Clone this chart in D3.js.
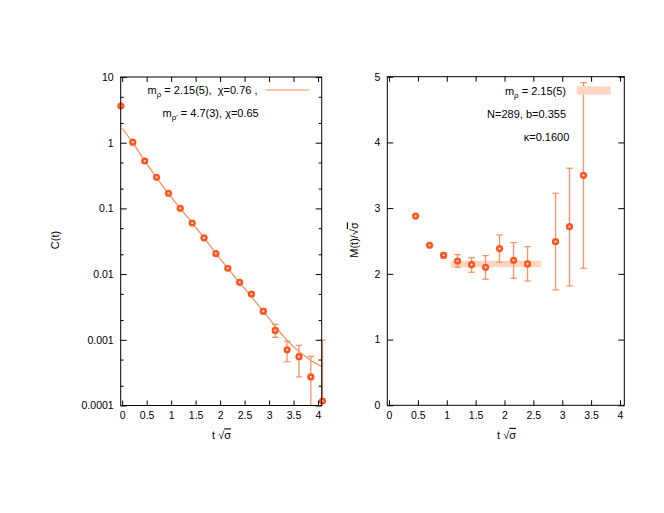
<!DOCTYPE html>
<html><head><meta charset="utf-8">
<script src="https://cdn.jsdelivr.net/npm/d3@7"></script>
<style>
body{margin:0;background:#fff;}
text{font-family:"Liberation Sans",Arial,sans-serif;fill:#000;}
</style></head>
<body><svg id="c" width="664" height="513"></svg>
<script>
// ---- data ----
const tLeft = [-0.027,0.217,0.46,0.702,0.945,1.187,1.43,1.672,1.914,2.157,2.399,2.641,2.884,3.126,3.368,3.611,3.853,4.09];
const cVal  = [3.62,1.02,0.527,0.297,0.170,0.1005,0.060,0.0355,0.0205,0.01225,0.0075,0.00498,0.00272,0.00139,0.000706,0.000553,0.000272,0.000117];
const cLo   = [3.55,1.0,0.52,0.293,0.168,0.099,0.059,0.035,0.0202,0.0120,0.0072,0.0047,0.00249,0.00109,0.000465,0.000272,0.00005,0.00005];
const cHi   = [3.69,1.04,0.535,0.301,0.172,0.102,0.061,0.036,0.0208,0.0125,0.0078,0.0053,0.00295,0.00172,0.00095,0.000824,0.00056,0.00099];
const fitT  = [0.0,0.217,0.46,0.702,0.945,1.187,1.43,1.672,1.914,2.157,2.399,2.641,2.884,3.126,3.368,3.611,3.853,4.04,4.075];
const fitC  = [1.66,1.0,0.53,0.295,0.168,0.1,0.06,0.0355,0.0207,0.0123,0.0074,0.0045,0.0027,0.0016,0.00098,0.00066,0.00049,0.000405,0.0004];

const tRight = [0.46,0.702,0.945,1.187,1.43,1.672,1.914,2.157,2.399,2.884,3.126,3.368];
const mVal   = [2.88,2.435,2.283,2.196,2.14,2.10,2.384,2.207,2.151,2.49,2.718,3.50];
const mLo    = [2.87,2.42,2.24,2.10,2.024,1.918,2.177,1.933,1.892,1.755,1.816,2.085];
const mHi    = [2.89,2.45,2.32,2.292,2.247,2.277,2.592,2.475,2.414,3.227,3.607,4.91];
const plateau = {mass:2.15, err:0.05, from:1.07, to:2.63};

const xTicks = [0,0.5,1,1.5,2,2.5,3,3.5,4];
const xTickLabels = ["0","0.5","1","1.5","2","2.5","3","3.5","4"];
const yLogTicks = [10,1,0.1,0.01,0.001,0.0001];
const yLogLabels = ["10","1","0.1","0.01","0.001","0.0001"];
const yLogMinor = [5,2,0.5,0.2,0.05,0.02,0.005,0.002,0.0005,0.0002];
const yLinTicks = [0,1,2,3,4,5];

// ---- styles ----
const PT="#ff5520", ERR="#f8946a", FIT="#fa8a55", BAND="#fdd6c2";
const svg=d3.select("#c");

function frame(g,x,y){
  const [x0,x1]=x.range(), [y0,y1]=y.range();
  g.append("rect").attr("x",x0).attr("y",y1).attr("width",x1-x0).attr("height",y0-y1)
   .attr("fill","none").attr("stroke","#000").attr("stroke-width",1);
}
function axes(g,x,y,yt,ylab,ymin){
  const [x0,x1]=x.range(), [y0,y1]=y.range();
  const fs="10.5px";
  g.append("g").attr("transform",`translate(0,${y0})`)
    .call(d3.axisBottom(x).tickValues(xTicks).tickFormat((d,i)=>xTickLabels[i]).tickSize(-5).tickPadding(6));
  g.append("g").attr("transform",`translate(0,${y1})`)
    .call(d3.axisTop(x).tickValues(xTicks).tickFormat("").tickSize(-5));
  g.append("g").attr("transform",`translate(${x0},0)`)
    .call(d3.axisLeft(y).tickValues(yt).tickFormat((d,i)=>ylab[i]).tickSize(-6).tickPadding(7));
  g.append("g").attr("transform",`translate(${x1},0)`)
    .call(d3.axisRight(y).tickValues(yt).tickFormat("").tickSize(-6));
  if(ymin){
    g.append("g").attr("transform",`translate(${x0},0)`).call(d3.axisLeft(y).tickValues(ymin).tickFormat("").tickSize(-3));
    g.append("g").attr("transform",`translate(${x1},0)`).call(d3.axisRight(y).tickValues(ymin).tickFormat("").tickSize(-3));
  }
  g.selectAll(".domain").remove();
  g.selectAll(".tick line").attr("stroke","#000");
  g.selectAll(".tick text").style("font-size",fs).style("font-family","Liberation Sans, Arial, sans-serif");
  frame(g,x,y);
}
function xlabel(g,cx,cy){
  const t=g.append("text").attr("x",cx).attr("y",cy).attr("text-anchor","middle")
   .attr("dy","0.35em").style("font-size","11px");
  t.append("tspan").text("t \u221A");
  t.append("tspan").text("\u03C3").style("text-decoration","overline");
}
function marker(g,px,py){
  g.append("circle").attr("cx",px).attr("cy",py).attr("r",3.6).attr("fill",PT);
  g.append("circle").attr("cx",px).attr("cy",py).attr("r",1.1).attr("fill","#fff").attr("opacity",0.85);
}
function errbar(g,px,ylo,yhi){
  g.append("line").attr("x1",px).attr("x2",px).attr("y1",ylo).attr("y2",yhi).attr("stroke",ERR).attr("stroke-width",1.3);
  [ylo,yhi].forEach(v=>g.append("line").attr("x1",px-3.2).attr("x2",px+3.2).attr("y1",v).attr("y2",v).attr("stroke",ERR).attr("stroke-width",1.3));
}

// ---- left panel ----
const xL=d3.scaleLinear().domain([-0.03,4.075]).range([120.7,321.7]);
const yL=d3.scaleLog().domain([1e-4,10]).range([405.5,77]);
const gL=svg.append("g");
gL.append("path").datum(fitT.map((t,i)=>[t,fitC[i]]))
  .attr("d",d3.line().x(d=>xL(d[0])).y(d=>yL(d[1])).curve(d3.curveMonotoneX))
  .attr("fill","none").attr("stroke",FIT).attr("stroke-width",1.2);
tLeft.forEach((t,i)=>{
  const lo=Math.max(cLo[i],1e-4);
  if(yL(lo)-yL(cHi[i])>3) {
    const px=xL(t), a=yL(lo), b=yL(cHi[i]);
    gL.append("line").attr("x1",px).attr("x2",px).attr("y1",a).attr("y2",b).attr("stroke",ERR).attr("stroke-width",1.3);
    gL.append("line").attr("x1",px-3.2).attr("x2",px+3.2).attr("y1",b).attr("y2",b).attr("stroke",ERR).attr("stroke-width",1.3);
    if(cLo[i]>1e-4) gL.append("line").attr("x1",px-3.2).attr("x2",px+3.2).attr("y1",a).attr("y2",a).attr("stroke",ERR).attr("stroke-width",1.3);
  }
});
tLeft.forEach((t,i)=>marker(gL,xL(t),yL(cVal[i])));
axes(gL,xL,yL,yLogTicks,yLogLabels,yLogMinor);
xlabel(gL,221.5,435.5);
gL.append("text").attr("transform","translate(55,240) rotate(-90)").attr("text-anchor","middle")
  .attr("dy","0.35em").style("font-size","11px").text("C(t)");
const l1=gL.append("text").attr("x",147.5).attr("y",90).attr("dy","0.35em").style("font-size","11px");
l1.append("tspan").text("m");
l1.append("tspan").attr("dy",3).style("font-size","8px").text("\u03C1");
l1.append("tspan").attr("dy",-3).text(" = 2.15(5),\u00A0 \u03C7=0.76 ,");
gL.append("line").attr("x1",265.7).attr("x2",309).attr("y1",90).attr("y2",90).attr("stroke",FIT).attr("stroke-width",1.2);
const l2=gL.append("text").attr("x",162.5).attr("y",113.3).attr("dy","0.35em").style("font-size","11px");
l2.append("tspan").text("m");
l2.append("tspan").attr("dy",3).style("font-size","8px").text("\u03C1'");
l2.append("tspan").attr("dy",-3).text(" = 4.7(3), \u03C7=0.65");

// ---- right panel ----
const xR=d3.scaleLinear().domain([-0.03,4.075]).range([387.3,624.3]);
const yR=d3.scaleLinear().domain([0,5]).range([405.3,76.7]);
const gR=svg.append("g");
gR.append("rect").attr("x",xR(plateau.from)).attr("width",xR(plateau.to)-xR(plateau.from))
  .attr("y",yR(plateau.mass+plateau.err)).attr("height",yR(plateau.mass-plateau.err)-yR(plateau.mass+plateau.err))
  .attr("fill",BAND);
tRight.forEach((t,i)=>{ if(yR(mLo[i])-yR(mHi[i])>3) errbar(gR,xR(t),yR(mLo[i]),yR(mHi[i])); });
tRight.forEach((t,i)=>marker(gR,xR(t),yR(mVal[i])));
axes(gR,xR,yR,yLinTicks,yLinTicks.map(String),null);
xlabel(gR,506.5,435);
const yl=gR.append("text").attr("transform","translate(354,240) rotate(-90)").attr("text-anchor","middle")
  .attr("dy","0.35em").style("font-size","11px");
yl.append("tspan").text("M(t)/\u221A");
yl.append("tspan").text("\u03C3").style("text-decoration","overline");
const r1=gR.append("text").attr("x",566).attr("y",91).attr("dy","0.35em").attr("text-anchor","end").style("font-size","11px");
r1.append("tspan").text("m");
r1.append("tspan").attr("dy",3).style("font-size","8px").text("\u03C1");
r1.append("tspan").attr("dy",-3).text(" = 2.15(5)");
gR.append("rect").attr("x",576.7).attr("y",86.3).attr("width",34).attr("height",8.4).attr("fill",BAND);
gR.append("text").attr("x",566).attr("y",114).attr("dy","0.35em").attr("text-anchor","end").style("font-size","11px").text("N=289, b=0.355");
gR.append("text").attr("x",569.3).attr("y",137.3).attr("dy","0.35em").attr("text-anchor","end").style("font-size","11px").text("\u03BA=0.1600");
</script></body></html>
